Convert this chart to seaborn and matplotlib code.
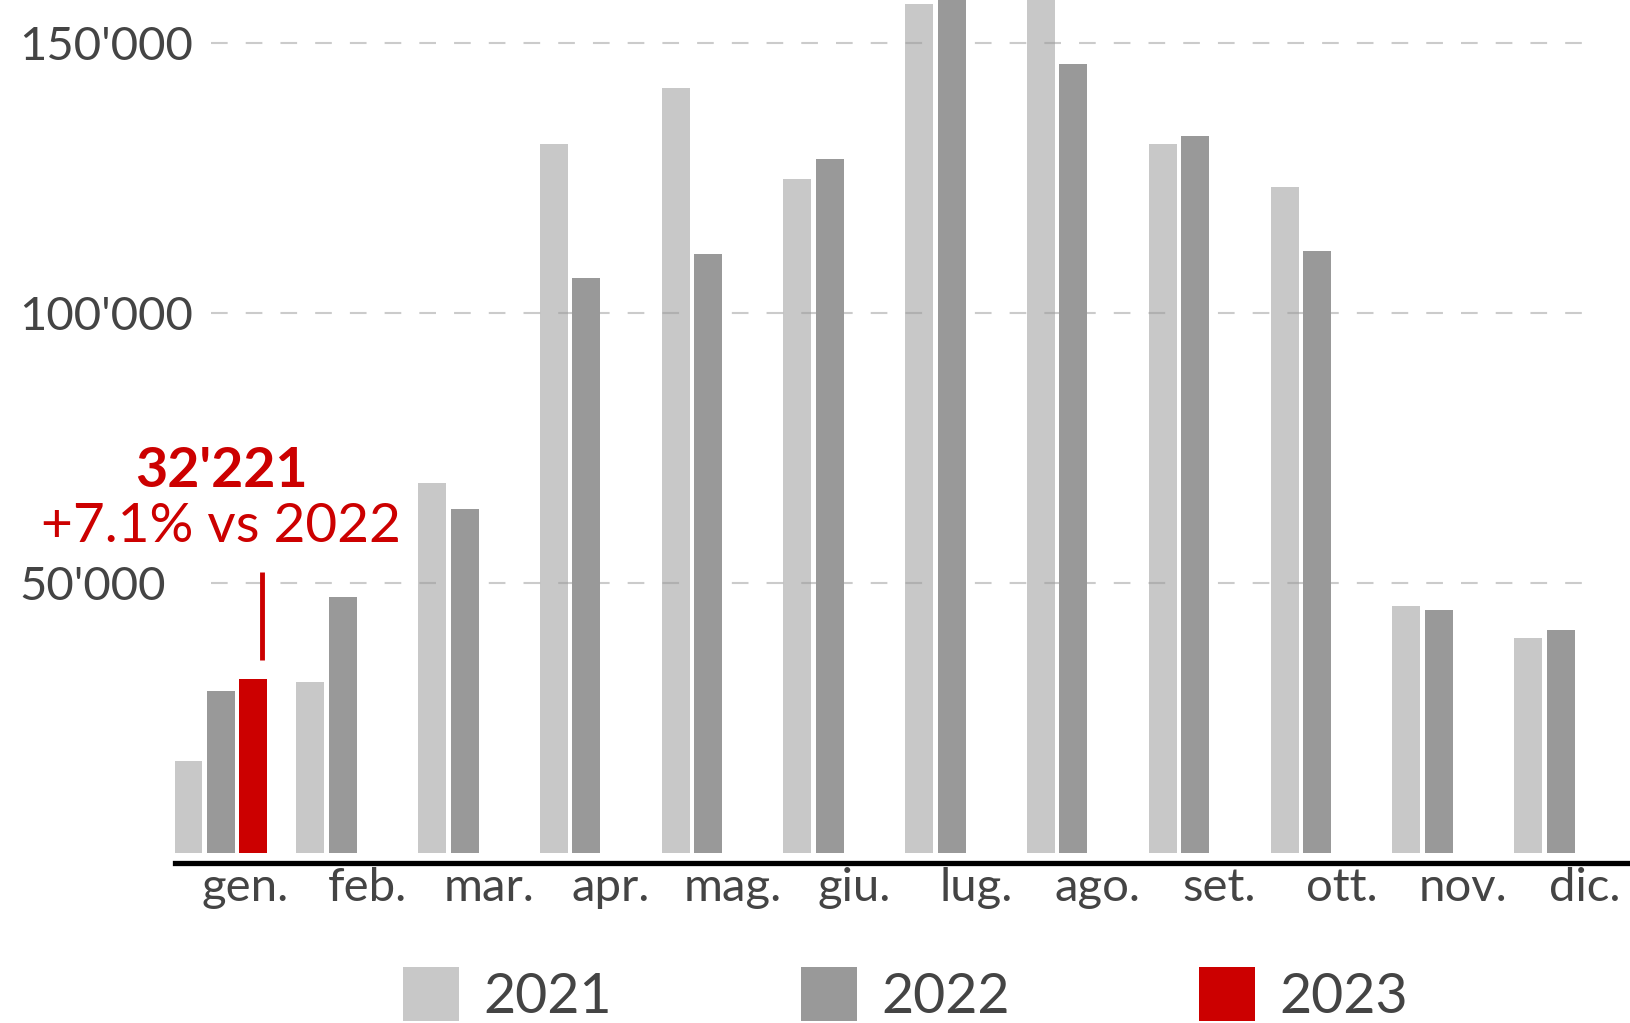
import numpy as np
import pandas as pd
import matplotlib
matplotlib.use("Agg")
import matplotlib.pyplot as plt
from matplotlib.patches import Patch
import seaborn as sns

# Data
months = ["gen.", "feb.", "mar.", "apr.", "mag.", "giu.",
          "lug.", "ago.", "set.", "ott.", "nov.", "dic."]
values_2021 = [17100, 31800, 68600, 131400, 141800, 124900,
               157200, 168000, 131400, 123300, 45900, 39900]
values_2022 = [30085, 47400, 63800, 106600, 111000, 128500,
               163000, 146200, 132900, 111600, 45100, 41400]
values_2023 = [32221]  # only January available
years = ["2021", "2022", "2023"]
colors = {"2021": "#c8c8c8", "2022": "#999999", "2023": "#cc0000"}
y_ticks = [50000, 100000, 150000]

rows = []
for m, v in zip(months, values_2021):
    rows.append((m, "2021", v))
for m, v in zip(months, values_2022):
    rows.append((m, "2022", v))
for m, v in zip(months, values_2023):
    rows.append((m, "2023", v))
df = pd.DataFrame(rows, columns=["month", "year", "value"])

sns.set_style("white")
plt.rcParams["font.family"] = ["Lato", "DejaVu Sans"]
plt.rcParams["lines.scale_dashes"] = False

fig = plt.figure(figsize=(16.3, 10.23), dpi=100)
ax = fig.add_axes([0.1071, 0.1564, 0.8929, 0.8436])

sns.barplot(data=df, x="month", y="value", hue="year", order=months,
            hue_order=years, palette=colors, width=0.8, gap=0.14,
            linewidth=0, saturation=1, legend=False, ax=ax, zorder=2)

ax.set_xlim(-0.381, 11.57)
ax.set_ylim(-1760, 158000)

# dashed grid lines, drawn over the bars
for t in y_ticks:
    ax.axhline(t, xmin=0.025, xmax=0.978, color="#999999", alpha=0.5,
               lw=1.5, ls=(0, (12, 13)), zorder=3)

ax.set_yticks(y_ticks)
ax.set_yticklabels([f"{t:,}".replace(",", "'") for t in y_ticks])
for lab in ax.get_yticklabels():
    lab.set_horizontalalignment("left")
ax.tick_params(axis="y", length=0, pad=112, labelsize=34, labelcolor="#444444")

ax.set_xticks(np.arange(len(months)) + 0.2)
ax.set_xticklabels(months)
ax.tick_params(axis="x", length=0, pad=3, labelsize=34, labelcolor="#444444")

ax.set_xlabel("")
ax.set_ylabel("")
for s in ["top", "right", "left"]:
    ax.spines[s].set_visible(False)
ax.spines["bottom"].set_color("black")
ax.spines["bottom"].set_linewidth(3.8)
ax.spines["bottom"].set_zorder(4)

# annotation for January 2023
ax.text(0, 70900, "32'221", ha="center", va="center", fontsize=40,
        fontweight="bold", color="#cc0000")
ax.text(0, 60500, "+7.1% vs 2022", ha="center", va="center", fontsize=39.5,
        color="#cc0000")
ax.plot([0.335, 0.335], [35800, 52200], color="#cc0000", lw=3.5, zorder=3,
        solid_capstyle="butt")

handles = [Patch(facecolor=colors[y], edgecolor="none") for y in years]
fig.legend(handles, years, loc="center left", bbox_to_anchor=(403 / 1630, 0.0274),
           ncol=3, frameon=False, fontsize=40, handlelength=1, handleheight=1.1,
           handletextpad=0.45, columnspacing=3.4, borderpad=0, borderaxespad=0,
           labelcolor="#444444")

fig.savefig("out.png", dpi=100)
